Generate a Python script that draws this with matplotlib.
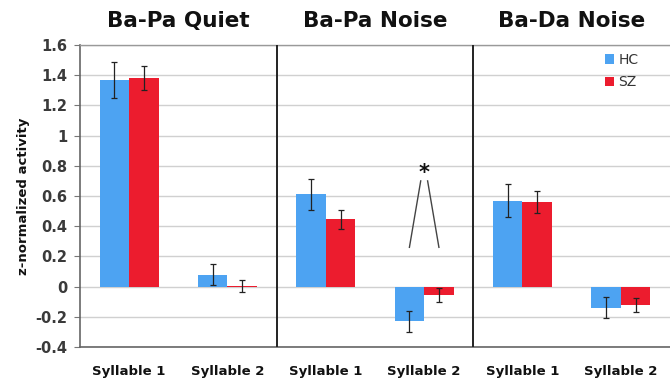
import matplotlib
matplotlib.use("Agg")
import matplotlib.pyplot as plt
import numpy as np

# Conditions (panels) and syllables within each
panels = ["Ba-Pa Quiet", "Ba-Pa Noise", "Ba-Da Noise"]
syllables = ["Syllable 1", "Syllable 2"]

# Mean z-normalized activity per panel/syllable
hc_means = [1.37, 0.08, 0.61, -0.23, 0.57, -0.14]
sz_means = [1.38, 0.005, 0.445, -0.055, 0.56, -0.12]
# Error bar half-lengths
hc_err = [0.12, 0.07, 0.10, 0.07, 0.11, 0.07]
sz_err = [0.08, 0.04, 0.065, 0.045, 0.07, 0.045]

yticks = [-0.4, -0.2, 0, 0.2, 0.4, 0.6, 0.8, 1, 1.2, 1.4, 1.6]
ytick_labels = ["-0.4", "-0.2", "0", "0.2", "0.4", "0.6", "0.8", "1", "1.2", "1.4", "1.6"]

HC_COLOR = "#4da3f2"
SZ_COLOR = "#ec1c2e"

fig = plt.figure(figsize=(6.7, 3.84), dpi=100)
ax = fig.add_axes([0.1194, 0.0964, 0.8806, 0.7864])

n = len(hc_means)
x = np.arange(n)
w = 0.3

ax.bar(x - w / 2, hc_means, w, color=HC_COLOR, label="HC", zorder=2)
ax.bar(x + w / 2, sz_means, w, color=SZ_COLOR, label="SZ", zorder=2)
ax.errorbar(x - w / 2, hc_means, yerr=hc_err, fmt="none", ecolor="#222222",
            elinewidth=0.9, capsize=2.5, capthick=0.9, zorder=3)
ax.errorbar(x + w / 2, sz_means, yerr=sz_err, fmt="none", ecolor="#222222",
            elinewidth=0.9, capsize=2.5, capthick=0.9, zorder=3)

ax.set_xlim(-0.5, n - 0.5)
ax.set_ylim(-0.4, 1.6)
ax.set_yticks(yticks)
ax.set_yticklabels(ytick_labels, fontsize=10.5, fontweight="bold", color="#3a3a3a")
ax.set_xticks(x)
ax.set_xticklabels(syllables * len(panels), fontsize=9.5, fontweight="bold", color="#111111")
ax.tick_params(axis="x", length=0, pad=13)
ax.tick_params(axis="y", direction="out", length=4, width=0.8, color="#777777", pad=5)

ax.yaxis.grid(True, color="#d0d0d0", linewidth=1.0, zorder=0)
ax.set_axisbelow(True)

for side in ["left", "bottom"]:
    ax.spines[side].set_color("#666666")
    ax.spines[side].set_linewidth(1.2)
ax.spines["top"].set_color("#999999")
ax.spines["top"].set_linewidth(1.0)
ax.spines["right"].set_visible(False)

# Panel separators
for sep in [1.5, 3.5]:
    ax.axvline(sep, color="#222222", linewidth=1.4, zorder=4)

# Panel titles
for i, title in enumerate(panels):
    ax.text(2 * i + 0.5, 1.0 + 0.08, title, transform=ax.get_xaxis_transform(),
            ha="center", va="center", fontsize=15.5, fontweight="bold", color="#111111")

ax.set_ylabel("z-normalized activity", fontsize=9.5, fontweight="bold",
              color="#111111", labelpad=4)

# Significance marker for Ba-Pa Noise, Syllable 2
sig_i = 3
ax.plot([sig_i - w / 2, sig_i - 0.035], [0.26, 0.70], color="#444444", linewidth=1.0, zorder=3)
ax.plot([sig_i + w / 2, sig_i + 0.035], [0.26, 0.70], color="#444444", linewidth=1.0, zorder=3)
ax.text(sig_i, 0.75, "*", ha="center", va="center", fontsize=15, fontweight="bold", color="#111111")

leg = ax.legend(loc="upper right", bbox_to_anchor=(0.968, 1.015), frameon=False,
                fontsize=10, handlelength=0.65, handleheight=0.65, handletextpad=0.3,
                labelspacing=0.6)
for t in leg.get_texts():
    t.set_color("#333333")

fig.savefig("out.png", dpi=100)
